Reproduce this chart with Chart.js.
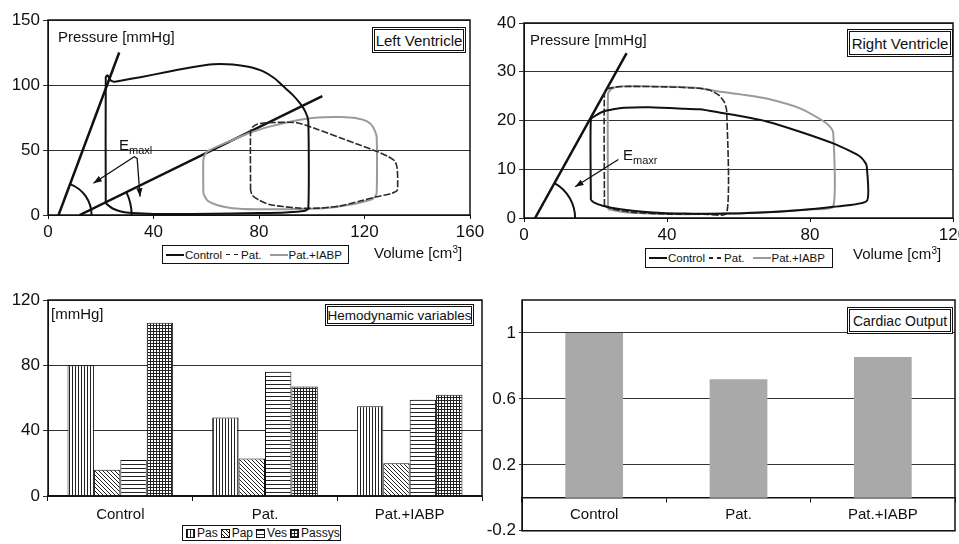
<!DOCTYPE html>
<html>
<head>
<meta charset="utf-8">
<script src="https://cdn.jsdelivr.net/npm/chart.js@4.4.1/dist/chart.umd.min.js"></script>
<style>
  body { margin: 0; background: #fff; font-family: 'Liberation Sans', Arial, sans-serif; color: #111; }
  #page { position: relative; width: 959px; height: 544px; overflow: hidden; }
  canvas { position: absolute; }
  .t { position: absolute; white-space: nowrap; line-height: 1; }
  .t sub { font-size: 11px; vertical-align: -4px; }
  .t sup { font-size: 10px; vertical-align: 5px; }
  .box { position: absolute; box-sizing: border-box; border: 3px double #111; background: #fff;
         display: flex; align-items: center; justify-content: center; white-space: nowrap; }
  .lg { position: absolute; box-sizing: border-box; border: 1px solid #111; background: #fff;
        display: flex; align-items: center; font-size: 11.5px; white-space: nowrap; padding-left: 3px; }
  .sw { display: inline-block; flex-shrink: 0; width: 18px; height: 2px; margin-right: 1px; }
  .solid { background: #111; }
  .dash { width: 12px; margin: 0 3px 0 4px; height: 1.5px;
          background: repeating-linear-gradient(to right, #222 0 4px, transparent 4px 8px); }
  .gray { background: #9a9a9a; margin-left: 8px; }
  .pat { display: inline-block; flex-shrink: 0; box-sizing: border-box; width: 9px; height: 9px;
         border: 1px solid #111; margin: 0 2px 0 3px; }
</style>
</head>
<body>
<div id="page">
  <canvas id="lv" width="500" height="275" style="left:0;top:0"></canvas>
  <canvas id="rv" width="500" height="275" style="left:480px;top:0"></canvas>
  <canvas id="bl" width="500" height="264" style="left:0;top:280px"></canvas>
  <canvas id="br" width="477" height="264" style="left:482px;top:280px"></canvas>

  <div class="t" style="left:58px;top:29px;font-size:15px">Pressure [mmHg]</div>
  <div class="box" style="left:372px;top:27px;width:94px;height:26px;font-size:15px">Left Ventricle</div>
  <div class="t" style="left:119px;top:137px;font-size:15px">E<sub>maxl</sub></div>
  <div class="t" style="left:374px;top:245px;font-size:15px">Volume [cm<sup>3</sup>]</div>
  <div class="lg" style="left:162px;top:245px;width:187px;height:19px">
    <span class="sw solid"></span>Control<span class="sw dash"></span>Pat.<span class="sw gray"></span>Pat.+IABP
  </div>

  <div class="t" style="left:530px;top:32px;font-size:15px">Pressure [mmHg]</div>
  <div class="box" style="left:847px;top:29px;width:106px;height:28px;font-size:15px">Right Ventricle</div>
  <div class="t" style="left:623px;top:147px;font-size:15px">E<sub>maxr</sub></div>
  <div class="t" style="left:853px;top:246px;font-size:15px">Volume [cm<sup>3</sup>]</div>
  <div class="lg" style="left:645px;top:248px;width:188px;height:20px">
    <span class="sw solid"></span>Control<span class="sw dash"></span>Pat.<span class="sw gray"></span>Pat.+IABP
  </div>

  <div class="t" style="left:51px;top:306px;font-size:15px">[mmHg]</div>
  <div class="box" style="left:325px;top:304px;width:149px;height:22px;font-size:13.5px">Hemodynamic variables</div>
  <div class="lg" id="hlg" style="left:182px;top:525px;width:159px;height:16px;font-size:12px;padding-left:0"></div>

  <div class="box" style="left:847px;top:307px;width:106px;height:27px;font-size:14px">Cardiac Output</div>
</div>

<script>
Chart.defaults.font.family = "'Liberation Sans', Arial, sans-serif";
Chart.defaults.color = "#111";
Chart.defaults.animation = false;
Chart.defaults.plugins.legend.display = false;
Chart.defaults.plugins.tooltip.enabled = false;

// Left ventricle P-V loops (volume cm3 / pressure mmHg)
const lvControlV = [21.9, 21.9, 22.6, 23.5, 25, 28, 35, 45, 54, 62.7, 70, 76, 81.6, 86, 89.2, 92.5, 95.5, 97.7, 98.7, 98.7, 97, 90, 80, 70, 55, 40, 32, 28, 24.5, 21.9];
const lvControlP = [9, 106, 107.5, 104, 102.5, 103.5, 106, 110, 113.5, 116, 115.8, 114, 110.5, 105, 99, 93, 86, 79, 72, 5, 3, 2, 1.5, 1.2, 0.8, 0.8, 1.5, 2.5, 5, 9];
const lvPatV = [76.8, 76.8, 77.5, 79.5, 83, 94.3, 102, 110.7, 118, 124.6, 129, 131.5, 132.4, 132.4, 130, 124.6, 118, 110.7, 103, 96, 89, 84, 80, 77.5, 76.8];
const lvPatP = [19, 64, 67.5, 70, 71, 71, 66, 59.5, 54, 49, 45, 41.5, 36, 19, 16.5, 14, 10.5, 7, 5.3, 5.2, 6.5, 8, 11.5, 15, 19];
const lvIabpV = [58.9, 58.9, 59.8, 61.4, 68, 76.6, 84, 91.8, 98, 104.4, 111, 117, 121, 123.3, 124.6, 124.6, 123.5, 122, 115, 104.4, 92, 79.1, 70, 64, 60.5, 59.5, 58.9];
const lvIabpP = [16.7, 42.3, 47.5, 50, 56, 63.3, 68, 71.8, 74, 75.1, 75.3, 74.4, 72, 67.5, 60.3, 16.7, 13, 11.5, 8, 5.1, 4.5, 4.4, 5.2, 7.7, 11, 14, 16.7];
// end-systolic elastance lines
const lvEmax1V = [4, 27];
const lvEmax1P = [0, 125];
const lvEmax2V = [12, 104];
const lvEmax2P = [0, 91.5];
// arrow bracket pointing at the two angles
const lvArrowV = [17.2, 32.7, 33.8, 34.9];
const lvArrowP = [24.4, 44.8, 43.5, 14.1];

// Right ventricle P-V loops
const rvControlV = [18.7, 18.7, 20, 22, 25, 28, 35, 45, 49.2, 55, 62, 67.9, 77.2, 86.5, 91, 94, 95.5, 95.9, 95.9, 86.5, 75, 65, 56.7, 45, 35, 27, 22, 19.5, 18.7];
const rvControlP = [3.7, 20.2, 21, 21.8, 22.3, 22.6, 22.7, 22.4, 22.3, 21.6, 20.7, 19.8, 17.7, 15.3, 13.8, 12.6, 11.3, 10.5, 3.5, 2.3, 1.5, 1.1, 0.9, 0.9, 1.2, 1.8, 2.5, 3.2, 3.7];
const rvPatV = [22.5, 22.5, 23.5, 26, 30, 40, 49, 52, 54.5, 56, 56.7, 56.7, 50, 40, 30, 25, 22.5];
const rvPatP = [2.5, 25.5, 26.5, 26.9, 27, 26.9, 26.6, 26.2, 25.2, 23.8, 22, 1, 0.8, 0.8, 1.2, 1.8, 2.5];
const rvIabpV = [23.5, 23.5, 24.5, 27, 35, 42, 49.2, 55, 62.3, 67.9, 77.2, 83.7, 85.5, 86.5, 86.5, 80, 70, 60, 50, 40, 32, 27, 23.5];
const rvIabpP = [1.8, 25.5, 26.5, 27, 27, 26.9, 26.6, 25.9, 25.2, 24.5, 22.5, 19.9, 18.8, 17.5, 2.3, 1.8, 1.3, 1, 0.8, 0.8, 1, 1.3, 1.8];
const rvEmaxV = [3.1, 28.7];
const rvEmaxP = [0, 33.8];
const rvArrowV = [26.4, 14.3];
const rvArrowP = [12.0, 6.4];

// Hemodynamic variables [mmHg]
const categories = ["Control", "Pat.", "Pat.+IABP"];
const pas = [80, 48, 55];
const pap = [16, 23, 20];
const ves = [22, 76, 59];
const passys = [106, 67, 62];

// Cardiac output (normalised)
const cardiacOutput = [1.0, 0.72, 0.855];
const coTicks = [-0.2, 0.2, 0.6, 1];

function pts(v, p) {
  return v.map((x, i) => ({ x: x, y: p[i] }));
}

const frame = {
  id: "frame",
  afterDraw(chart) {
    const { ctx, chartArea: a } = chart;
    ctx.save();
    ctx.strokeStyle = "#111";
    ctx.lineWidth = 1.5;
    ctx.strokeRect(a.left, a.top, a.right - a.left, a.bottom - a.top);
    ctx.restore();
  },
};

function arrowHead(ctx, x1, y1, x2, y2) {
  const a = Math.atan2(y2 - y1, x2 - x1), h = 9;
  ctx.beginPath();
  ctx.moveTo(x2, y2);
  ctx.lineTo(x2 - h * Math.cos(a - 0.35), y2 - h * Math.sin(a - 0.35));
  ctx.lineTo(x2 - h * Math.cos(a + 0.35), y2 - h * Math.sin(a + 0.35));
  ctx.closePath();
  ctx.fill();
}

// angle arc at the foot of an elastance line
function emaxArc(chart, lineV, lineP, r) {
  const { ctx, scales } = chart;
  const cx = scales.x.getPixelForValue(lineV[0]), cy = scales.y.getPixelForValue(lineP[0]);
  const ex = scales.x.getPixelForValue(lineV[1]), ey = scales.y.getPixelForValue(lineP[1]);
  ctx.beginPath();
  ctx.arc(cx, cy, r, Math.atan2(ey - cy, ex - cx), 0);
  ctx.stroke();
}

function pathPx(chart, v, p) {
  return v.map((x, i) => [chart.scales.x.getPixelForValue(x), chart.scales.y.getPixelForValue(p[i])]);
}

const lvMarks = {
  id: "lvMarks",
  afterDatasetsDraw(chart) {
    const ctx = chart.ctx;
    ctx.save();
    ctx.strokeStyle = "#111";
    ctx.fillStyle = "#111";
    ctx.lineWidth = 2;
    emaxArc(chart, lvEmax1V, lvEmax1P, 33);
    emaxArc(chart, lvEmax2V, lvEmax2P, 52);
    const q = pathPx(chart, lvArrowV, lvArrowP);
    ctx.lineWidth = 1.3;
    ctx.beginPath();
    ctx.moveTo(q[0][0], q[0][1]);
    ctx.lineTo(q[1][0], q[1][1]);
    ctx.lineTo(q[2][0], q[2][1]);
    ctx.lineTo(q[3][0], q[3][1]);
    ctx.stroke();
    arrowHead(ctx, q[1][0], q[1][1], q[0][0], q[0][1]);
    arrowHead(ctx, q[2][0], q[2][1], q[3][0], q[3][1]);
    ctx.restore();
  },
};

const rvMarks = {
  id: "rvMarks",
  afterDatasetsDraw(chart) {
    const ctx = chart.ctx;
    ctx.save();
    ctx.strokeStyle = "#111";
    ctx.fillStyle = "#111";
    ctx.lineWidth = 2;
    emaxArc(chart, rvEmaxV, rvEmaxP, 40);
    const q = pathPx(chart, rvArrowV, rvArrowP);
    ctx.lineWidth = 1.3;
    ctx.beginPath();
    ctx.moveTo(q[0][0], q[0][1]);
    ctx.lineTo(q[1][0], q[1][1]);
    ctx.stroke();
    arrowHead(ctx, q[0][0], q[0][1], q[1][0], q[1][1]);
    ctx.restore();
  },
};

function loopChart(id, sets, xMax, yMax, yStep, pad, yWidth, xHeight, marks) {
  return new Chart(document.getElementById(id), {
    type: "line",
    data: {
      datasets: [
        { data: pts(sets[0][0], sets[0][1]), borderColor: "#111", borderWidth: 2 },
        { data: pts(sets[1][0], sets[1][1]), borderColor: "#2a2a2a", borderWidth: 1.6, borderDash: [7, 2] },
        { data: pts(sets[2][0], sets[2][1]), borderColor: "#9a9a9a", borderWidth: 2 },
        ...sets.slice(3).map((s) => ({ data: pts(s[0], s[1]), borderColor: "#111", borderWidth: 2.5, tension: 0 })),
      ],
    },
    options: {
      responsive: false,
      elements: { point: { radius: 0 }, line: { tension: 0.2, fill: false } },
      layout: { padding: pad },
      scales: {
        x: {
          type: "linear", min: 0, max: xMax,
          ticks: { stepSize: 40, font: { size: 17 }, padding: 3, maxRotation: 0 },
          grid: { drawOnChartArea: false, tickLength: 4, color: "#111" },
          border: { color: "#111" },
          afterFit(s) { s.height = xHeight; },
        },
        y: {
          min: 0, max: yMax,
          ticks: { stepSize: yStep, font: { size: 17 }, padding: 3 },
          grid: { color: "#333", tickLength: 5 },
          border: { color: "#111" },
          afterFit(s) { s.width = yWidth; },
        },
      },
    },
    plugins: [frame, marks],
  });
}

loopChart("lv",
  [[lvControlV, lvControlP], [lvPatV, lvPatP], [lvIabpV, lvIabpP], [lvEmax1V, lvEmax1P], [lvEmax2V, lvEmax2P]],
  160, 150, 50, { top: 20, right: 30, left: 0, bottom: 0 }, 48, 60, lvMarks);

loopChart("rv",
  [[rvControlV, rvControlP], [rvPatV, rvPatP], [rvIabpV, rvIabpP], [rvEmaxV, rvEmaxP]],
  120, 40, 10, { top: 23, right: 27, left: 0, bottom: 0 }, 44, 57, rvMarks);

// hatch patterns for the hemodynamic bars
function tile(size, draw) {
  const c = document.createElement("canvas");
  c.width = c.height = size;
  const g = c.getContext("2d");
  g.fillStyle = "#fff";
  g.fillRect(0, 0, size, size);
  g.fillStyle = "#222";
  draw(g, size);
  return c;
}
const blCtx = document.getElementById("bl").getContext("2d");
const tiles = {
  Pas: tile(3, (g, n) => g.fillRect(0, 0, 1, n)),
  Pap: tile(4, (g, n) => { for (let i = 0; i < n; i++) g.fillRect(i, i, 1, 1); }),
  Ves: tile(4, (g, n) => g.fillRect(0, 0, n, 1)),
  Passys: tile(3, (g, n) => { g.fillRect(0, 0, 1, n); g.fillRect(0, 0, n, 1); }),
};
const hemo = [["Pas", pas], ["Pap", pap], ["Ves", ves], ["Passys", passys]];

new Chart(blCtx, {
  type: "bar",
  data: {
    labels: categories,
    datasets: hemo.map(([name, vals]) => ({
      label: name, data: vals,
      backgroundColor: blCtx.createPattern(tiles[name], "repeat"),
      borderColor: "#111", borderWidth: 1,
    })),
  },
  options: {
    responsive: false,
    layout: { padding: { top: 20, right: 18, left: 0, bottom: 0 } },
    datasets: { bar: { categoryPercentage: 0.73, barPercentage: 1 } },
    scales: {
      x: {
        ticks: { font: { size: 15 }, padding: 5 },
        grid: { offset: true, drawOnChartArea: false, tickLength: 5, color: "#111" },
        border: { color: "#111", width: 1.5 },
        afterFit(s) { s.height = 48; },
      },
      y: {
        min: 0, max: 120,
        ticks: { stepSize: 40, font: { size: 17 }, padding: 3 },
        grid: { color: "#333", tickLength: 5 },
        border: { color: "#111" },
        afterFit(s) { s.width = 48; },
      },
    },
  },
  plugins: [frame],
});

// legend for the hatched bars
const hlg = document.getElementById("hlg");
hemo.forEach(([name]) => {
  const sw = document.createElement("span");
  sw.className = "pat";
  sw.style.backgroundImage = "url(" + tiles[name].toDataURL() + ")";
  hlg.appendChild(sw);
  hlg.appendChild(document.createTextNode(name));
});

new Chart(document.getElementById("br"), {
  type: "bar",
  data: {
    labels: categories,
    datasets: [{ data: cardiacOutput, backgroundColor: "#a9a9a9", barPercentage: 0.4, categoryPercentage: 1 }],
  },
  options: {
    responsive: false,
    layout: { padding: { top: 20, right: 4, left: 0, bottom: 12 } },
    scales: {
      x: {
        position: { y: 0 },
        ticks: { font: { size: 15 }, padding: 4 },
        grid: { offset: true, drawOnChartArea: false, tickLength: 4, color: "#111" },
        border: { color: "#111", width: 1.5 },
      },
      y: {
        min: -0.2, max: 1.2,
        afterBuildTicks(s) { s.ticks = coTicks.map((v) => ({ value: v })); },
        ticks: { font: { size: 17 }, padding: 3, callback: (v) => String(v) },
        grid: { color: "#333", tickLength: 3 },
        border: { color: "#111" },
        afterFit(s) { s.width = 40; },
      },
    },
  },
  plugins: [frame],
});
</script>
</body>
</html>
